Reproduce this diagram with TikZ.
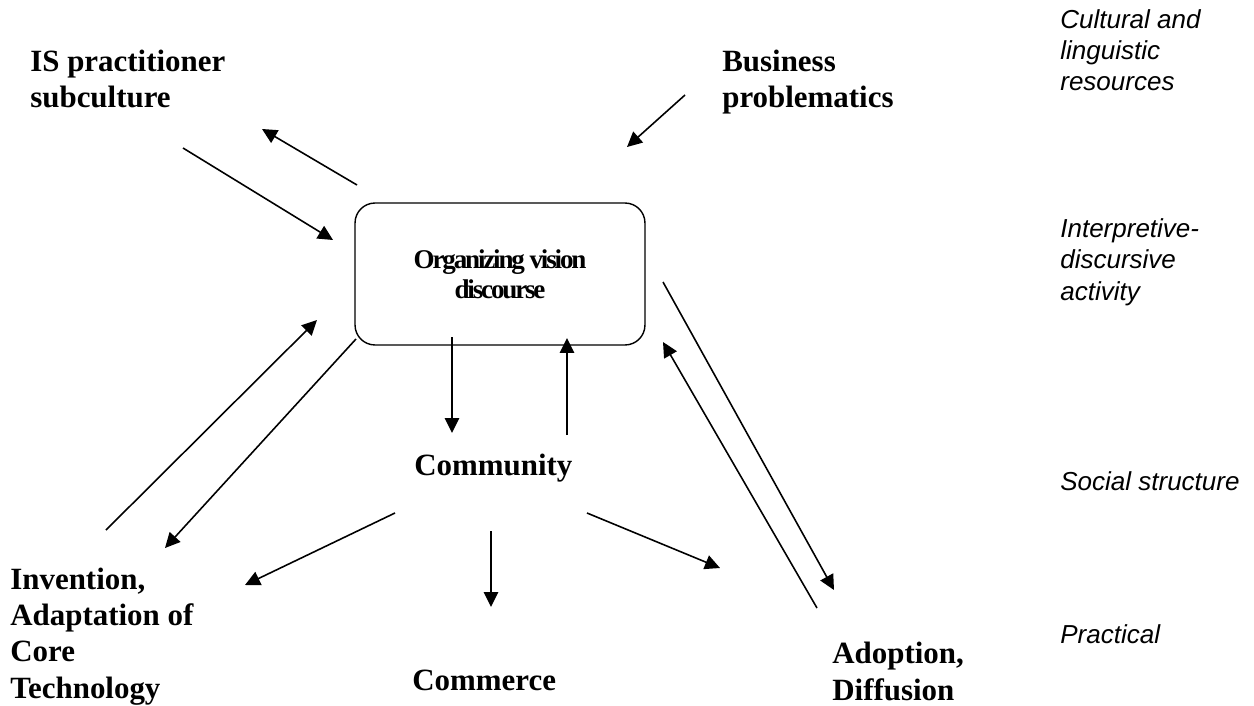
\documentclass[tikz,border=0pt]{standalone}
\usepackage{fontspec}
\setmainfont{Liberation Serif}
\newfontfamily\levelfont{Liberation Sans}
\newfontfamily\boxfont{Liberation Serif}[LetterSpace=-8]
\usetikzlibrary{arrows.meta}

\tikzset{
  actor/.style={font=\fontsize{17.6}{20.5}\selectfont\bfseries, align=left, anchor=base west, inner sep=0pt},
  level/.style={font=\levelfont\itshape\fontsize{14.8}{17.9}\selectfont, align=left, anchor=base west, inner sep=0pt},
  flow/.style={-{Triangle[length=3mm,width=2.9mm]}, line width=0.9pt},
}

\begin{document}
\begin{tikzpicture}[x=0.02cm, y=-0.02cm]
        \useasboundingbox (0,0) rectangle (1254,706);

        % Discurso central
        \node[draw, line width=0.8pt, rounded corners=0.4cm, minimum width=5.8cm, minimum height=2.84cm,
              align=center, font=\boxfont\bfseries\fontsize{15.4}{17}\selectfont] (ov) at (500,274)
              {Organizing vision\\discourse};

        % Atores (base = ultima linha)
        \node[actor] (is) at (30,108) {IS practitioner\\subculture};
        \node[actor] (bp) at (722,108) {Business\\problematics};
        \node[actor] (com) at (414,475) {Community};
        \node[actor] (inv) at (10,698) {Invention,\\Adaptation of\\Core\\Technology};
        \node[actor] (cmc) at (412,690) {Commerce};
        \node[actor] (adp) at (832,700) {Adoption,\\Diffusion};

        % Niveis
        \foreach \y/\txt [count=\i] in {91/{Cultural and\\linguistic\\resources},
                                       300/{Interpretive-\\discursive\\activity},
                                       490/{Social structure},
                                       643/{Practical}} {
          \node[level] (lv\i) at (1060,\y) {\txt};
        }

        % Pontas das setas
        \foreach \n/\sx/\sy/\tx/\ty in {1/357/185/262/129, 2/183/148/333/240, 3/685/95/627/147,
                                        4/106/530/317/320, 5/356/339/165/548, 6/663/282/834/590,
                                        7/817/608/663/342, 8/452/337/452/433, 9/567/435/567/338,
                                        10/395/513/245/585, 11/491/531/491/607, 12/587/513/720/568} {
          \coordinate (s\n) at (\sx,\sy);
          \coordinate (t\n) at (\tx,\ty);
        }

        % Setas
        \foreach \n in {1,...,12} {
          \draw[flow] (s\n) -- (t\n);
        }
      \end{tikzpicture}
\end{document}
